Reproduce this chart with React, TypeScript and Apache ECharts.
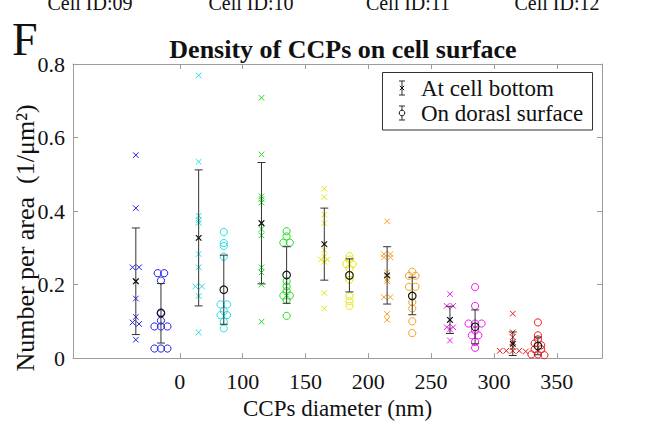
import React, { useEffect, useRef } from "react";
import * as echarts from "echarts";

// ---------- data ----------
const binCenters = [-25, 25, 75, 125, 175, 225, 275];
const groupColors = ["#2020ee", "#22e0e0", "#22dd22", "#e6e60a", "#f5a020", "#ee1bee", "#ee1818"];
const xTickValues = [0, 50, 100, 150, 200, 250, 300];
const xTickLabels = ["0", "100", "150", "200", "250", "300", "350"];
const topLabels = ["Cell ID:09", "Cell ID:10", "Cell ID:11", "Cell ID:12"];

const bottomPoints = [
  [0.552, 0.408, 0.247, 0.247, 0.209, 0.162, 0.112, 0.097, 0.093, 0.05],
  [0.769, 0.534, 0.387, 0.375, 0.368, 0.283, 0.247, 0.195, 0.195, 0.169, 0.07],
  [0.708, 0.554, 0.44, 0.433, 0.423, 0.367, 0.351, 0.334, 0.247, 0.233, 0.2, 0.099],
  [0.461, 0.438, 0.39, 0.367, 0.294, 0.276, 0.268, 0.268, 0.262, 0.177, 0.135],
  [0.372, 0.283, 0.283, 0.274, 0.274, 0.233, 0.215, 0.209, 0.166, 0.166, 0.12, 0.104],
  [0.174, 0.142, 0.142, 0.104, 0.084, 0.084, 0.078, 0.048],
  [0.121, 0.07, 0.057, 0.044, 0.03, 0.02, 0.02, 0.02, 0.02, 0.018],
];
const dorsalPoints = [
  [0.231, 0.231, 0.211, 0.124, 0.102, 0.086, 0.086, 0.086, 0.026, 0.026, 0.026],
  [0.343, 0.313, 0.305, 0.276, 0.146, 0.146, 0.128, 0.117, 0.117, 0.099, 0.081],
  [0.345, 0.331, 0.314, 0.314, 0.209, 0.195, 0.182, 0.17, 0.17, 0.158, 0.115],
  [0.277, 0.268, 0.256, 0.256, 0.244, 0.226, 0.213, 0.169, 0.155, 0.142],
  [0.235, 0.224, 0.224, 0.194, 0.194, 0.17, 0.152, 0.135, 0.1, 0.068],
  [0.193, 0.142, 0.094, 0.094, 0.094, 0.075, 0.062, 0.062, 0.044, 0.028],
  [0.097, 0.062, 0.051, 0.04, 0.035, 0.024, 0.024, 0.01, 0.01, 0.008],
];
const bottomMean = [0.209, 0.327, 0.367, 0.31, 0.225, 0.104, 0.039];
const bottomStd = [0.145, 0.185, 0.165, 0.098, 0.078, 0.037, 0.032];
const dorsalMean = [0.122, 0.186, 0.226, 0.225, 0.169, 0.085, 0.033];
const dorsalStd = [0.081, 0.094, 0.077, 0.045, 0.051, 0.046, 0.024];

const PAIR_SHIFT = 10; // x units between bin center and each condition
const FONT = "Liberation Serif";
const BOX = "#9c9c9c";

// simple beeswarm: spread nearly equal values horizontally
function swarmOffsets(values: number[], tol: number, gap: number): number[] {
  const idx = values.map((_, i) => i).sort((a, b) => values[b] - values[a]);
  const off = new Array(values.length).fill(0);
  let i = 0;
  while (i < idx.length) {
    let j = i;
    while (j + 1 < idx.length && values[idx[i]] - values[idx[j + 1]] <= tol) j++;
    const n = j - i + 1;
    for (let k = 0; k < n; k++) off[idx[i + k]] = (k - (n - 1) / 2) * gap;
    i = j + 1;
  }
  return off;
}

function cross(cx: number, cy: number, r: number, color: string, lw: number) {
  return [
    { type: "line", shape: { x1: cx - r, y1: cy - r, x2: cx + r, y2: cy + r }, style: { stroke: color, lineWidth: lw } },
    { type: "line", shape: { x1: cx - r, y1: cy + r, x2: cx + r, y2: cy - r }, style: { stroke: color, lineWidth: lw } },
  ];
}

function pointSeries(kind: "x" | "o", groups: number[][], shift: number) {
  const data: any[] = [];
  groups.forEach((vals, g) => {
    const offs = swarmOffsets(vals, 0.005, 6.5);
    vals.forEach((v, k) => data.push([binCenters[g] + shift, v, offs[k], g]));
  });
  return {
    type: "custom",
    name: kind === "x" ? "At cell bottom points" : "On dorasl surface points",
    data,
    encode: { x: 0, y: 1 },
    z: 2,
    renderItem: (_p: any, api: any) => {
      const c = api.coord([api.value(0), api.value(1)]);
      const cx = c[0] + api.value(2);
      const cy = c[1];
      const color = groupColors[api.value(3)];
      if (kind === "x") return { type: "group", children: cross(cx, cy, 2.8, color, 1) };
      return { type: "circle", shape: { cx, cy, r: 3.6 }, style: { fill: "none", stroke: color, lineWidth: 1 } };
    },
  };
}

function errorSeries(kind: "x" | "o", means: number[], stds: number[], shift: number) {
  const data = means.map((m, g) => [binCenters[g] + shift, m, stds[g]]);
  return {
    type: "custom",
    name: kind === "x" ? "At cell bottom" : "On dorasl surface",
    data,
    encode: { x: 0, y: 1 },
    z: 3,
    renderItem: (_p: any, api: any) => {
      const x = api.value(0), m = api.value(1), s = api.value(2);
      const top = api.coord([x, m + s]);
      const bot = api.coord([x, m - s]);
      const c = api.coord([x, m]);
      const st = { stroke: "#333", lineWidth: 1 };
      const children: any[] = [
        { type: "line", shape: { x1: top[0], y1: top[1], x2: bot[0], y2: bot[1] }, style: st },
        { type: "line", shape: { x1: top[0] - 4, y1: top[1], x2: top[0] + 4, y2: top[1] }, style: st },
        { type: "line", shape: { x1: bot[0] - 4, y1: bot[1], x2: bot[0] + 4, y2: bot[1] }, style: st },
      ];
      if (kind === "x") children.push(...cross(c[0], c[1], 2.8, "#111", 1.2));
      else children.push({ type: "circle", shape: { cx: c[0], cy: c[1], r: 3.8 }, style: { fill: "none", stroke: "#111", lineWidth: 1.1 } });
      return { type: "group", children };
    },
  };
}

function legendIcon(kind: "x" | "o", cx: number, cy: number) {
  const st = { stroke: "#2a2a2a", lineWidth: 1 };
  const els: any[] = [
    { type: "line", shape: { x1: cx, y1: cy - 7, x2: cx, y2: cy + 7 }, style: st },
    { type: "line", shape: { x1: cx - 3, y1: cy - 7, x2: cx + 3, y2: cy - 7 }, style: st },
    { type: "line", shape: { x1: cx - 3, y1: cy + 7, x2: cx + 3, y2: cy + 7 }, style: st },
  ];
  if (kind === "x") els.push(...cross(cx, cy, 2.2, "#111", 1));
  else els.push({ type: "circle", shape: { cx, cy, r: 2.8 }, style: { fill: "#fff", stroke: "#111", lineWidth: 1 } });
  return els;
}

export default function App() {
  const ref = useRef<HTMLDivElement>(null);
  useEffect(() => {
    if (!ref.current) return;
    const chart = echarts.init(ref.current, null, { renderer: "svg" });
    const topLabelX = [90, 251, 408, 557];
    const txt = (text: string, x: number, y: number, size: number, align = "left", vAlign = "middle", extra: any = {}) => ({
      type: "text",
      x,
      y,
      ...extra,
      style: {
        text,
        fontFamily: FONT,
        fontSize: size,
        fill: "#111",
        align,
        verticalAlign: vAlign,
        textAlign: align,
        textVerticalAlign: vAlign,
      },
    });
    const axisCommon = {
      axisLine: { show: true, onZero: false, lineStyle: { color: BOX, width: 1 } },
      splitLine: { show: false },
    };
    chart.setOption({
      animation: false,
      backgroundColor: "#ffffff",
      textStyle: { fontFamily: FONT },
      title: {
        text: "Density of CCPs on cell surface",
        left: 338,
        textAlign: "center",
        top: 31,
        textStyle: { fontFamily: FONT, fontWeight: "bold", fontSize: 26, color: "#111" },
      },
      grid: { left: 73, right: 44, top: 64, bottom: 62, containLabel: false },
      xAxis: [
        {
          type: "value",
          min: -85,
          max: 336,
          position: "bottom",
          ...axisCommon,
          axisTick: { show: true, inside: true, length: 5, customValues: xTickValues, lineStyle: { color: BOX } },
          axisLabel: {
            customValues: xTickValues,
            formatter: (v: number) => xTickLabels[xTickValues.indexOf(v)] ?? "",
            fontFamily: FONT,
            fontSize: 22,
            color: "#111",
            margin: 12,
          },
          name: "CCPs diameter (nm)",
          nameLocation: "middle",
          nameGap: 36,
          nameTextStyle: { fontFamily: FONT, fontSize: 23, color: "#111" },
        },
        {
          type: "value",
          min: -85,
          max: 336,
          position: "top",
          ...axisCommon,
          axisTick: { show: true, inside: true, length: 5, customValues: xTickValues, lineStyle: { color: BOX } },
          axisLabel: { show: false },
        },
      ],
      yAxis: [
        {
          type: "value",
          min: 0,
          max: 0.8,
          interval: 0.2,
          position: "left",
          ...axisCommon,
          axisTick: { show: true, inside: true, length: 5, lineStyle: { color: BOX } },
          axisLabel: { fontFamily: FONT, fontSize: 22, color: "#111", margin: 8 },
        },
        {
          type: "value",
          min: 0,
          max: 0.8,
          interval: 0.2,
          position: "right",
          ...axisCommon,
          axisTick: { show: true, inside: true, length: 5, lineStyle: { color: BOX } },
          axisLabel: { show: false },
        },
      ],
      series: [
        pointSeries("x", bottomPoints, -PAIR_SHIFT),
        pointSeries("o", dorsalPoints, PAIR_SHIFT),
        errorSeries("x", bottomMean, bottomStd, -PAIR_SHIFT),
        errorSeries("o", dorsalMean, dorsalStd, PAIR_SHIFT),
      ],
      graphic: [
        ...topLabels.map((t, i) => txt(t, topLabelX[i], 13, 20, "center", "bottom")),
        txt("F", 12, 39, 46, "left", "middle"),
        txt("Number per area  (1/μm²)", 25, 238, 26, "center", "middle", { rotation: Math.PI / 2 }),
        {
          type: "rect",
          shape: { x: 382.5, y: 72.5, width: 210, height: 57.5 },
          style: { fill: "#fff", stroke: "#333", lineWidth: 1 },
          z: 10,
        },
        ...legendIcon("x", 402, 88).map((e) => ({ ...e, z: 11 })),
        ...legendIcon("o", 402, 113).map((e) => ({ ...e, z: 11 })),
        { ...txt("At cell bottom", 421, 88, 23), z: 11 },
        { ...txt("On dorasl surface", 421, 113, 23), z: 11 },
      ],
    });
    return () => chart.dispose();
  }, []);
  return <div ref={ref} style={{ position: "absolute", left: 0, top: 0, width: 646, height: 425 }} />;
}
